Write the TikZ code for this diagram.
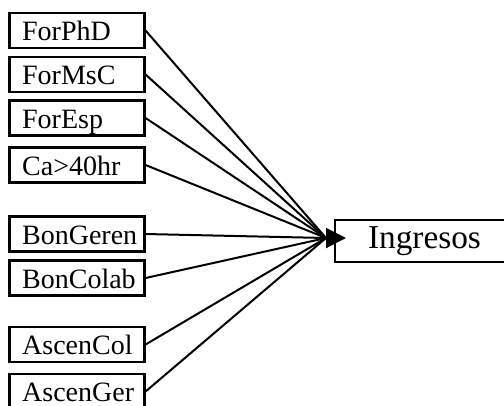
\documentclass[tikz,border=0pt]{standalone}
\usepackage{fontspec}
\setmainfont{Liberation Serif}
\usetikzlibrary{arrows.meta}

\tikzset{
  varbox/.style={draw, line width=1.6pt, inner xsep=9.5pt, inner ysep=0pt,
    text width=82.25pt, align=left, minimum height=26.25pt,
    text height=15.5pt, text depth=0.5pt, font=\fontsize{21}{25}\selectfont},
  outbox/.style={draw, line width=1.6pt, minimum width=134.25pt, minimum height=31.5pt,
    font=\fontsize{25}{29}\selectfont},
  inline/.style={line width=1.5pt},
}

\begin{document}
\begin{tikzpicture}[x=0.75pt,y=0.75pt,yscale=-1,xscale=1]
\useasboundingbox (0,0) rectangle (504,405);

%Shape: Rectangles, input variables
\node[varbox] (phd) at (77,30.5) {ForPhD};
\node[varbox] (msc) at (77,74.5) {ForMsC};
\node[varbox] (esp) at (77,118) {ForEsp};
\node[varbox] (ca) at (77,165) {Ca>40hr};
\node[varbox] (bongeren) at (77,234) {BonGeren};
\node[varbox] (boncolab) at (77,278) {BonColab};
\node[varbox] (ascencol) at (77,344.5) {AscenCol};
\node[varbox] (ascenger) at (77,391.5) {AscenGer};

%Shape: Rectangle, output
\node[outbox] (ingresos) at (424.5,241) {Ingresos};

%Meeting point and arrow tip
\coordinate (hub) at (326,238);
\coordinate (tip) at (346,238);

%Straight Lines
\draw[inline] (phd.east) -- (hub);
\draw[inline] (msc.east) -- (hub);
\draw[inline] (esp.east) -- (hub);
\draw[inline] (ca.east) -- (hub);
\draw[inline] (bongeren.east) -- (hub);
\draw[inline] (boncolab.east) -- (hub);
\draw[inline] (ascencol.east) -- (hub);
\draw[inline] (ascenger.east) -- (hub);
%Arrow
\draw[inline, -{Triangle[length=15pt,width=15pt]}] (hub) -- (tip);

\end{tikzpicture}
\end{document}
